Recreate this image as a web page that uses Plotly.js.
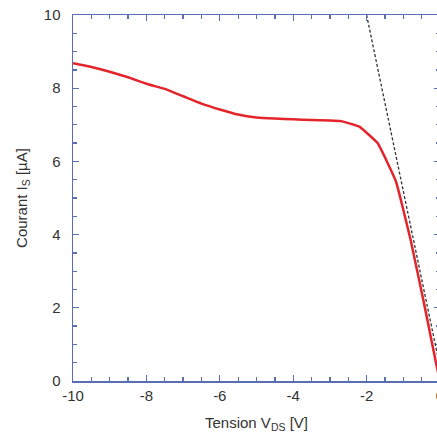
<!DOCTYPE html>
<html>
<head>
<meta charset="utf-8">
<script src="https://cdn.plot.ly/plotly-3.0.1.min.js"></script>
<style>
html, body { margin: 0; padding: 0; overflow: hidden; background: #fff; }
#chart { width: 445px; height: 434px; }
</style>
</head>
<body>
<div id="chart"></div>
<script>
// Measured curve I_S vs V_DS
const vds = [-10, -9.5, -9, -8.5, -8, -7.5, -7, -6.5, -6, -5.5, -5, -4.5, -4, -3.5, -3, -2.7, -2.2, -1.7, -1.2, -0.8, -0.4, -0.1, 0];
const is  = [8.68, 8.58, 8.45, 8.3, 8.12, 7.98, 7.78, 7.58, 7.42, 7.28, 7.2, 7.17, 7.15, 7.13, 7.12, 7.1, 6.95, 6.5, 5.45, 3.85, 1.95, 0.45, 0.0];
// Tangent (dashed) line
const tanX = [-2.0, 0];
const tanY = [10.0, 0.38];
// Tick labels
const xTickVals = [-10, -8, -6, -4, -2, 0];
const xTickText = ['-10', '-8', '-6', '-4', '-2', '0'];
const yTickVals = [0, 2, 4, 6, 8, 10];
const yTickText = ['0', '2', '4', '6', '8', '10'];

const axisColor = '#5b6db3';
const fontFam = 'Liberation Sans, Arial, sans-serif';

const data = [
  { x: vds, y: is, mode: 'lines', line: { color: '#e3242b', width: 2.5, shape: 'spline', smoothing: 0.3 }, hoverinfo: 'none' },
  { x: tanX, y: tanY, mode: 'lines', line: { color: '#333333', width: 1.3, dash: '3px,2px' }, hoverinfo: 'none' }
];

const layout = {
  width: 445, height: 434,
  margin: { l: 73, r: 5, t: 15, b: 53 },
  showlegend: false,
  paper_bgcolor: '#ffffff', plot_bgcolor: '#ffffff',
  font: { family: fontFam, color: '#333333', size: 15 },
  xaxis: {
    range: [-10, 0], tickvals: xTickVals, ticktext: xTickText,
    ticks: 'inside', ticklen: 6, tickwidth: 1.3, tickcolor: axisColor,
    minor: { dtick: 0.5, ticks: 'inside', ticklen: 4, tickwidth: 1.3, tickcolor: axisColor, showgrid: false },
    showline: true, linecolor: axisColor, linewidth: 1.5, mirror: 'ticks',
    showgrid: false, zeroline: false,
    tickfont: { size: 15, color: '#333333' },
    title: { text: 'Tension V<sub>DS</sub> [V]', font: { size: 15, color: '#333333' }, standoff: 15 }
  },
  yaxis: {
    range: [0, 10], tickvals: yTickVals, ticktext: yTickText,
    ticks: 'inside', ticklen: 6, tickwidth: 1.3, tickcolor: axisColor,
    minor: { dtick: 0.5, ticks: 'inside', ticklen: 4, tickwidth: 1.3, tickcolor: axisColor, showgrid: false },
    showline: true, linecolor: axisColor, linewidth: 1.5, mirror: 'ticks',
    showgrid: false, zeroline: false,
    tickfont: { size: 15, color: '#333333' },
    ticklabelstandoff: 8,
    title: { text: 'Courant I<sub>S</sub> [µA]', font: { size: 15, color: '#333333' }, standoff: 12 }
  }
};

Plotly.newPlot('chart', data, layout, { displayModeBar: false, staticPlot: true });
</script>
</body>
</html>
